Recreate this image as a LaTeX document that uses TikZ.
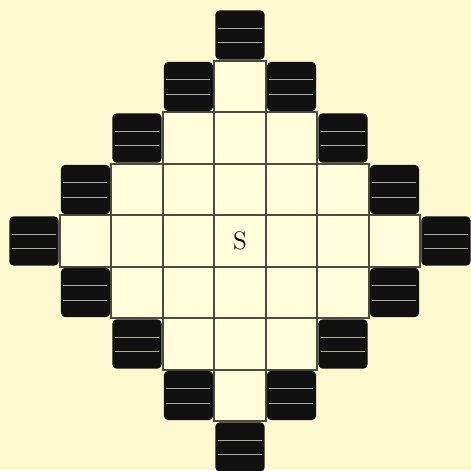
\documentclass[tikz,border=0pt]{standalone}
\usepackage{xcolor}
\usepackage{tikz}
\definecolor{paper}{HTML}{FDF9CF}
\definecolor{cellcream}{HTML}{FFFDDA}
\definecolor{gridgray}{HTML}{4C4B42}
\definecolor{inkblack}{HTML}{111111}
\definecolor{stripegray}{HTML}{ABAA9C}

\tikzset{
  cell/.style={draw=gridgray, fill=cellcream, line width=0.95pt,
               minimum size=1cm, inner sep=0pt},
  rimbox/.style={fill=inkblack, rounded corners=2.5pt,
                 minimum size=0.96cm, inner sep=0pt,
                 path picture={
                   \draw[stripe] ([yshift=0.13cm]path picture bounding box.west)
                     -- ([yshift=0.13cm]path picture bounding box.east);
                   \draw[stripe] ([yshift=-0.15cm]path picture bounding box.west)
                     -- ([yshift=-0.15cm]path picture bounding box.east);
                 }},
  stripe/.style={stripegray, line width=0.5pt, shorten <=1.5pt, shorten >=1.5pt}
}

\begin{document}
\begin{tikzpicture}
    \fill[paper] (-4.66,-4.447) rectangle (4.486,4.68);
    \useasboundingbox (-4.66,-4.447) rectangle (4.486,4.68);
    % inner board
    \foreach \i in {-3,...,3}
      \foreach \j in {-3,...,3}{
        \pgfmathtruncatemacro\d{abs(\i)+abs(\j)}
        \ifnum\d<4
          \node[cell] (cell-\i-\j) at (\i,\j) {};
        \fi
      }
    % black rim
    \foreach \i in {-4,...,4}{
      \pgfmathtruncatemacro\k{4-abs(\i)}
      \node[rimbox] (rim-\i-\k) at (\i,\k) {};
      \ifnum\k>0
        \node[rimbox] (rim-\i--\k) at (\i,-\k) {};
      \fi
    }
    \node[font=\fontsize{14}{14}\selectfont] (start) at (cell-0-0) {S};
\end{tikzpicture}
\end{document}
